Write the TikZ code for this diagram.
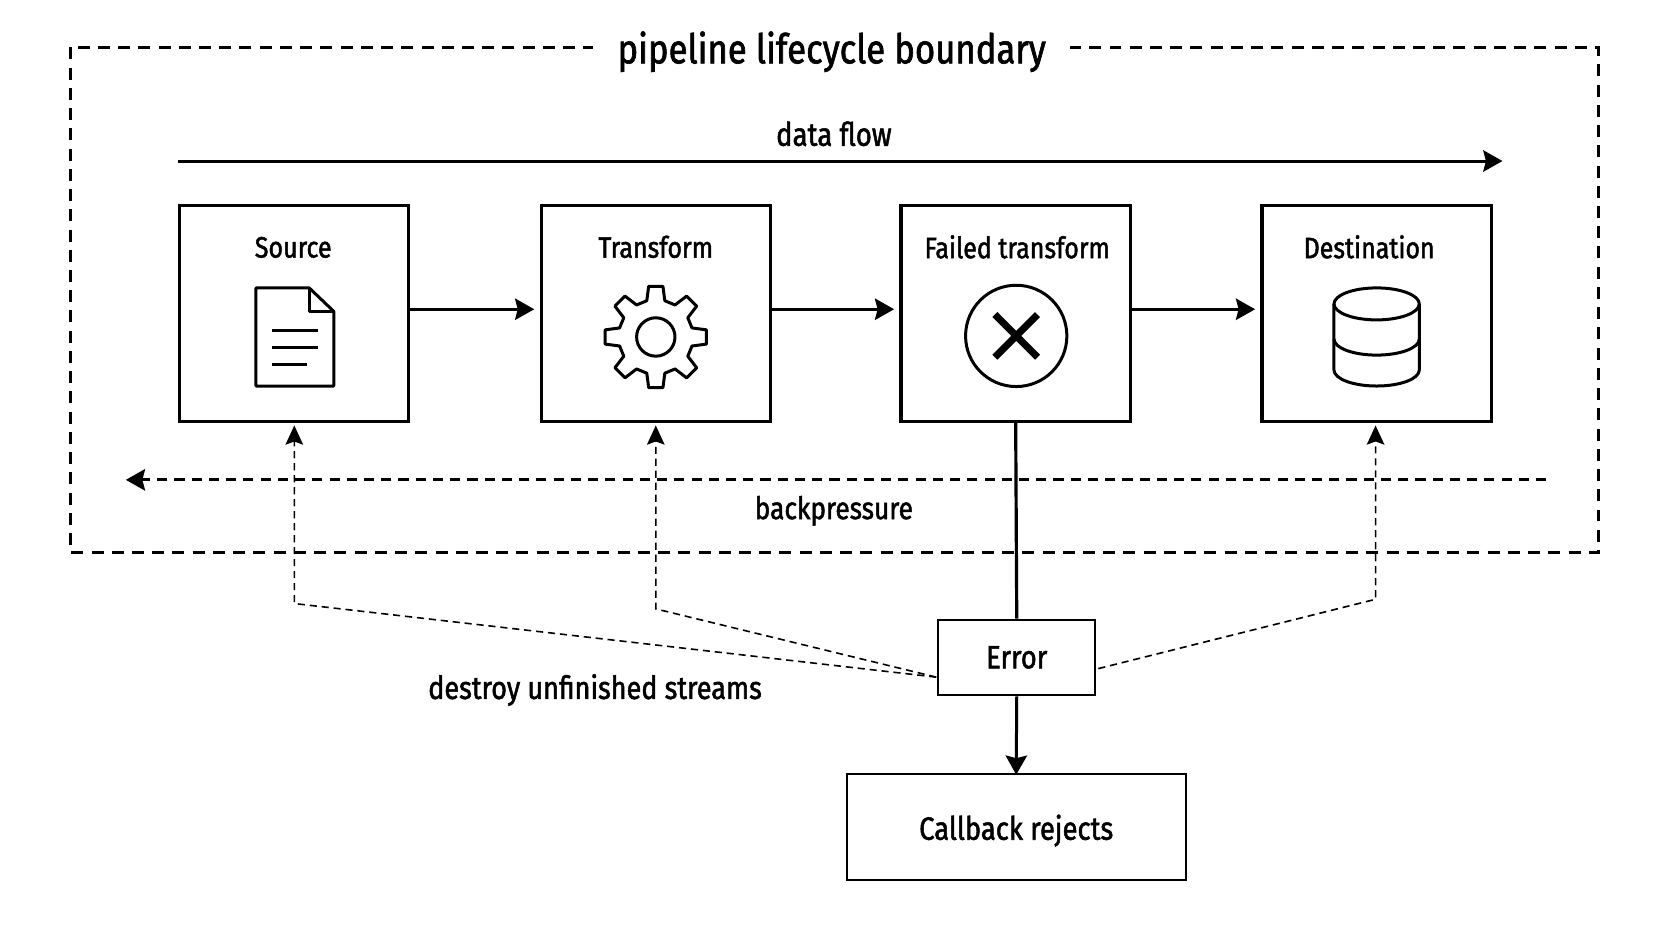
\documentclass[tikz,border=0pt]{standalone}
\usepackage{fontspec}
\setmainfont{Fira Sans}[FakeStretch=0.85,FakeBold=1.6]
\usetikzlibrary{arrows.meta}
\tikzset{
	stagebox/.style={draw,line width=1.7pt,minimum width=4.3cm,minimum height=4.04cm},
	smallbox/.style={draw,line width=1.1pt,font=\fontsize{17.2}{20}\selectfont},
	stagetext/.style={font=\fontsize{15.7}{19}\selectfont},
	flowtext/.style={font=\fontsize{16.5}{19}\selectfont},
	bigarrow/.style={line width=1.6pt,-{Stealth[length=0.36cm,width=0.4cm,inset=0.05cm]}},
	thinarrow/.style={line width=0.85pt,dash pattern=on 3.8pt off 2.6pt,-{Stealth[length=0.36cm,width=0.33cm,inset=0.06cm]}},
	icon/.style={line width=1.6pt,line join=round}
}
\begin{document}
\begin{tikzpicture}[x=0.02cm,y=-0.02cm]
	\useasboundingbox (0,0) rectangle (1568,882.4);
	% outer boundary
	\coordinate (bndtl) at (66,44.5);
	\coordinate (bndbr) at (1499,518);
	\draw[line width=1.7pt,dash pattern=on 6.4pt off 4.4pt] (bndtl) rectangle (bndbr);
	\node[fill=white,inner xsep=13pt,inner ysep=2pt,font=\fontsize{21.8}{26}\selectfont] (title) at (780,48.5) {pipeline lifecycle boundary};
	% data flow
	\coordinate (flowa) at (167,151);
	\coordinate (flowb) at (1409,151);
	\draw[bigarrow] (flowa) -- (flowb);
	\node[font=\fontsize{17.3}{19}\selectfont] (flowlabel) at (782,125.5) {data flow};
	% stages
	\node[stagebox] (source) at (275.5,294) {};
	\node[stagebox] (transform) at (615,294) {};
	\node[stagebox] (failed) at (952.5,294) {};
	\node[stagebox] (dest) at (1291,294) {};
	\node[stagetext] (sourcelabel) at (275,232) {Source};
	\node[stagetext] (transformlabel) at (615,231.5) {Transform};
	\node[stagetext] (failedlabel) at (954,231.5) {Failed transform};
	\node[stagetext] (destlabel) at (1284,231.5) {Destination};
	\draw[bigarrow,shorten >=0.1cm] ([yshift=0.08cm]source.east) -- ([yshift=0.08cm]transform.west);
	\draw[bigarrow,shorten >=0.1cm] ([yshift=0.08cm]transform.east) -- ([yshift=0.08cm]failed.west);
	\draw[bigarrow,shorten >=0.1cm] ([yshift=0.08cm]failed.east) -- ([yshift=0.08cm]dest.west);
	% document icon
	\draw[icon] (240,270) -- (290,270) -- (313,292) -- (313,362) -- (240,362) -- cycle;
	\draw[icon] (290,270) -- (290,292) -- (313,292);
	\draw[icon] (255,310) -- (298,310);
	\draw[icon] (255,326) -- (298,326);
	\draw[icon] (255,342) -- (288,342);
	% gear icon
	\draw[icon] (615,316) circle (18);
	\draw[icon,shift={(615,316)}] (76:35) \foreach \a in {90,135,...,405} {
		-- ({\a-8}:48) -- ({\a+8}:48) -- ({\a+14}:35) -- ({\a+31}:35) } -- cycle;
	% failed icon
	\draw[icon] (953,315) circle (47.5);
	\draw[line width=3.8pt] (933,295) -- (973,335) (973,295) -- (933,335);
	% database icon
	\draw[icon] (1291,285) ellipse (40 and 15);
	\draw[icon] (1251,285) -- (1251,347) arc[start angle=180,end angle=0,x radius=40,y radius=15] -- (1331,285);
	\draw[icon] (1251,318) arc[start angle=180,end angle=0,x radius=40,y radius=15];
	% backpressure
	\coordinate (backa) at (1450,450);
	\coordinate (backb) at (118,450);
	\draw[bigarrow,dash pattern=on 5.4pt off 3.8pt] (backa) -- (backb);
	\node[flowtext] (backlabel) at (782,479) {backpressure};
	% error path
	\node[smallbox,minimum width=2.94cm,minimum height=1.42cm] (error) at (953.5,616.5) {Error};
	\node[smallbox,minimum width=6.36cm,minimum height=1.98cm,text depth=0.1cm,text height=0.58cm] (callback) at (953,775.5) {Callback rejects};
	\draw[line width=1.7pt] (failed.south) -- (error.north);
	\draw[bigarrow,shorten >=-0.03cm] (error.south) -- (callback.north);
	\coordinate (srcbend) at (276,566);
	\coordinate (trfbend) at (615,571);
	\coordinate (dstbend) at (1290,562);
	\coordinate (errleft) at (878,635);
	\coordinate (errright) at (1030,627);
	\coordinate (srctip) at (276,399);
	\coordinate (trftip) at (615,399);
	\coordinate (dsttip) at (1290,399);
	\draw[thinarrow] (errleft) -- (srcbend) -- (srctip);
	\draw[thinarrow] (errleft) -- (trfbend) -- (trftip);
	\draw[thinarrow] (errright) -- (dstbend) -- (dsttip);
	\node[font=\fontsize{17}{20}\selectfont] (destroylabel) at (558,647) {destroy unfinished streams};
\end{tikzpicture}
\end{document}
